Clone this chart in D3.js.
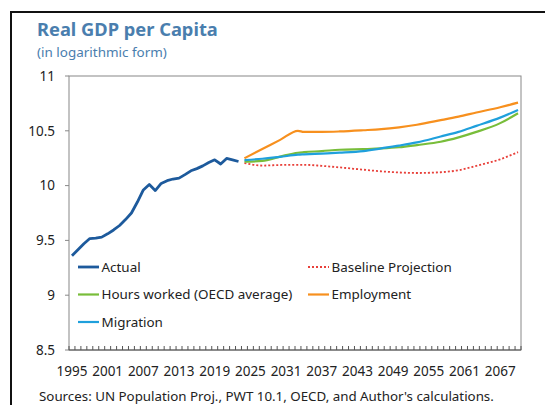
<!DOCTYPE html>
<html>
<head>
<meta charset="utf-8">
<script src="https://cdn.jsdelivr.net/npm/d3@7"></script>
<style>
  body { margin: 0; background: #fff; }
  svg text { font-family: "Noto Sans", "Open Sans", sans-serif; fill: #222; }
</style>
</head>
<body>
<div id="chart"></div>
<script>
// actual, 1995-2023
const actualYears = d3.range(1995, 2024);
const actual = [9.36, 9.415, 9.47, 9.517, 9.52, 9.53, 9.56, 9.595, 9.636, 9.69,
                9.75, 9.85, 9.96, 10.01, 9.955, 10.02, 10.045, 10.06, 10.068, 10.10,
                10.135, 10.155, 10.18, 10.21, 10.235, 10.197, 10.248, 10.235, 10.22];

// projections
const projYears  = [2024, 2027, 2030, 2033, 2034, 2037, 2040, 2044, 2047, 2050, 2053, 2057, 2060, 2063, 2067, 2070];
const baseline   = [10.206, 10.183, 10.188, 10.19, 10.19, 10.18, 10.166, 10.145, 10.13, 10.12, 10.115, 10.122, 10.14, 10.18, 10.24, 10.305];
const employment = [10.25, 10.333, 10.417, 10.50, 10.49, 10.49, 10.494, 10.505, 10.515, 10.532, 10.555, 10.597, 10.63, 10.667, 10.715, 10.757];
const hours      = [10.218, 10.225, 10.265, 10.30, 10.305, 10.315, 10.327, 10.333, 10.339, 10.35, 10.37, 10.40, 10.44, 10.49, 10.57, 10.66];
const migration  = [10.233, 10.245, 10.262, 10.282, 10.285, 10.292, 10.30, 10.315, 10.34, 10.365, 10.394, 10.448, 10.49, 10.545, 10.62, 10.69];

const allYears = d3.range(1995, 2071);
const xTickLabels = d3.range(1995, 2068, 6);
const yTicks = [8.5, 9, 9.5, 10, 10.5, 11];

const W = 545, H = 405;
const plotL = 69, plotR = 521, plotT = 76, plotB = 350;

const svg = d3.select("#chart").append("svg")
    .attr("width", W)
    .attr("height", H);

// outer frame
svg.append("rect")
    .attr("x", 11).attr("y", 12)
    .attr("width", 600).attr("height", 500)
    .attr("fill", "none")
    .attr("stroke", "#111")
    .attr("stroke-width", 2);

// fit a text to a width
function fit(sel, width) {
    const w = sel.node().getComputedTextLength();
    const fs = parseFloat(sel.attr("font-size"));
    sel.attr("font-size", (fs * width / w).toFixed(2));
    return sel;
}

fit(svg.append("text")
    .attr("x", 37).attr("y", 36)
    .attr("font-size", 18)
    .attr("font-weight", "bold")
    .style("fill", "#4a7eae")
    .text("Real GDP per Capita"), 181);

fit(svg.append("text")
    .attr("x", 37).attr("y", 57)
    .attr("font-size", 14)
    .style("fill", "#4a7eae")
    .text("(in logarithmic form)"), 130);

const x = d3.scaleBand()
    .domain(allYears)
    .range([plotL, plotR])
    .paddingInner(0);

const y = d3.scaleLinear()
    .domain([8.5, 11])
    .range([plotB, plotT]);

const xc = d => x(d) + x.bandwidth() / 2;

// plot box
svg.append("rect")
    .attr("x", plotL).attr("y", plotT)
    .attr("width", plotR - plotL).attr("height", plotB - plotT)
    .attr("fill", "none")
    .attr("stroke", "#888")
    .attr("stroke-width", 1);

// y ticks + labels
svg.selectAll(".ytick")
    .data(yTicks)
    .enter()
    .append("line")
    .attr("x1", plotL - 4).attr("x2", plotL)
    .attr("y1", d => y(d)).attr("y2", d => y(d))
    .attr("stroke", "#888");

svg.selectAll(".ylab")
    .data(yTicks)
    .enter()
    .append("text")
    .attr("x", 55)
    .attr("y", d => y(d))
    .attr("dy", "0.35em")
    .attr("text-anchor", "end")
    .attr("font-size", 13.5)
    .text(d => d);

// x axis line and yearly ticks
svg.append("line")
    .attr("x1", plotL).attr("x2", plotR)
    .attr("y1", plotB).attr("y2", plotB)
    .attr("stroke", "#555");

svg.selectAll(".xtick")
    .data(allYears.concat([null]))
    .enter()
    .append("line")
    .attr("x1", d => d === null ? plotR : x(d))
    .attr("x2", d => d === null ? plotR : x(d))
    .attr("y1", plotB).attr("y2", plotB - 4)
    .attr("stroke", "#555");

svg.selectAll(".xlab")
    .data(xTickLabels)
    .enter()
    .append("text")
    .attr("x", d => xc(d))
    .attr("y", 376)
    .attr("text-anchor", "middle")
    .attr("font-size", 13.5)
    .text(d => d);

// lines
const smooth = d3.line()
    .x(d => xc(d[0]))
    .y(d => y(d[1]))
    .curve(d3.curveMonotoneX);

const straight = d3.line()
    .x(d => xc(d[0]))
    .y(d => y(d[1]));

const series = [
    { name: "Baseline Projection", vals: baseline, color: "#e8403a", width: 1.8, dash: "2,2" },
    { name: "Employment", vals: employment, color: "#f7901e", width: 2.2 },
    { name: "Hours worked (OECD average)", vals: hours, color: "#78bd3a", width: 2.2 },
    { name: "Migration", vals: migration, color: "#1fa0dc", width: 2.2 }
];

series.forEach(s => {
    svg.append("path")
        .datum(projYears.map((yr, i) => [yr, s.vals[i]]))
        .attr("fill", "none")
        .attr("stroke", s.color)
        .attr("stroke-width", s.width)
        .attr("stroke-dasharray", s.dash || null)
        .attr("d", smooth);
});

svg.append("path")
    .datum(actualYears.map((yr, i) => [yr, actual[i]]))
    .attr("fill", "none")
    .attr("stroke", "#1d5a9c")
    .attr("stroke-width", 2.8)
    .attr("stroke-linejoin", "round")
    .attr("d", straight);

// legend
const legend = [
    { name: "Actual", color: "#1d5a9c", width: 2.8, col: 0, row: 0 },
    { name: "Baseline Projection", color: "#e8403a", width: 1.8, dash: "2,2", col: 1, row: 0 },
    { name: "Hours worked (OECD average)", color: "#78bd3a", width: 2.2, col: 0, row: 1 },
    { name: "Employment", color: "#f7901e", width: 2.2, col: 1, row: 1 },
    { name: "Migration", color: "#1fa0dc", width: 2.2, col: 0, row: 2 }
];
const colX = [78, 308], rowY = [267, 294.5, 322];

const probe = fit(svg.append("text")
    .attr("font-size", 14)
    .text("Hours worked (OECD average)"), 191);
const legendFs = probe.attr("font-size");
probe.remove();

legend.forEach(l => {
    svg.append("line")
        .attr("x1", colX[l.col]).attr("x2", colX[l.col] + 21)
        .attr("y1", rowY[l.row]).attr("y2", rowY[l.row])
        .attr("stroke", l.color)
        .attr("stroke-width", l.width)
        .attr("stroke-dasharray", l.dash || null);
    svg.append("text")
        .attr("x", colX[l.col] + 23.5)
        .attr("y", rowY[l.row])
        .attr("dy", "0.36em")
        .attr("font-size", legendFs)
        .text(l.name);
});

fit(svg.append("text")
    .attr("x", 39).attr("y", 401)
    .attr("font-size", 13.5)
    .text("Sources: UN Population Proj., PWT 10.1, OECD, and Author's calculations."), 455);
</script>
</body>
</html>
